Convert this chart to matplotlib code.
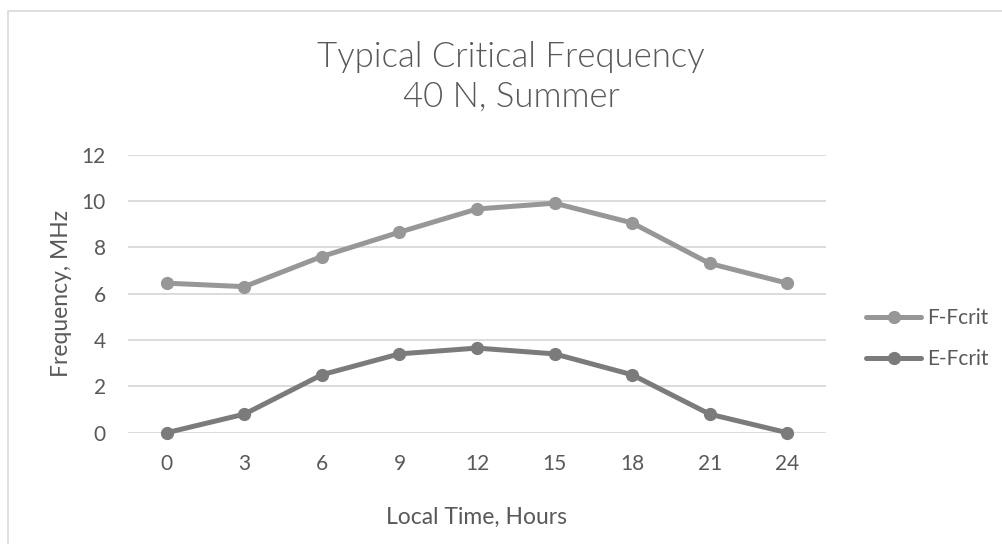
# Imports
import numpy as np
import matplotlib
matplotlib.use('Agg')
import matplotlib.pyplot as plt
from matplotlib.patches import Rectangle

# Font
matplotlib.rcParams['font.family'] = ['Lato', 'DejaVu Sans']

# Data
hours = [0, 3, 6, 9, 12, 15, 18, 21, 24]
f_fcrit = [6.45, 6.3, 7.6, 8.65, 9.65, 9.9, 9.05, 7.3, 6.45]
e_fcrit = [0.0, 0.8, 2.5, 3.4, 3.65, 3.4, 2.5, 0.8, 0.0]
yticks = [0, 2, 4, 6, 8, 10, 12]

# Colours
txt = '#595959'
grid = '#d9d9d9'
f_col = '#979797'
e_col = '#7b7b7b'

# Figure
W, H = 1003, 544
fig = plt.figure(figsize=(W / 100, H / 100), dpi=100)
ax = fig.add_axes([128 / W, 1 - 432.7 / H, (826 - 128) / W, (432.7 - 154.5) / H])

# Chart area border (only left and top visible)
fig.patches.append(Rectangle((8 / W, -0.5), 2, 1.5 - 11 / H, transform=fig.transFigure,
                             fill=False, edgecolor=grid, linewidth=1.2))

# Lines (not clipped so the markers on 0 stay round)
ax.plot(hours, f_fcrit, color=f_col, lw=3.6, marker='o', ms=8.5, label='F-Fcrit',
        solid_capstyle='round', zorder=3, clip_on=False)
ax.plot(hours, e_fcrit, color=e_col, lw=3.6, marker='o', ms=8.5, label='E-Fcrit',
        solid_capstyle='round', zorder=3, clip_on=False)

# Axes
ax.set_xlim(-1.5, 25.5)
ax.set_ylim(0, 12)
ax.set_xticks(hours)
ax.set_yticks(yticks)
ax.grid(axis='y', color=grid, lw=1.3)
ax.set_axisbelow(True)
for s in ax.spines.values():
    s.set_visible(False)
ax.tick_params(length=0, labelsize=15, labelcolor=txt)
ax.tick_params(axis='x', pad=15)
ax.tick_params(axis='y', pad=16)

# Axis titles
ax.set_ylabel('Frequency, MHz', fontsize=16.5, color=txt, va='center')
ax.yaxis.set_label_coords(-0.095, 0.5)
ax.set_xlabel('Local Time, Hours', fontsize=16.5, color=txt, va='center')
ax.xaxis.set_label_coords(0.5, -0.305)

# Title
fig.text(511 / W, 1 - 67 / H, 'Typical Critical Frequency', ha='center', va='baseline',
         fontsize=25, color=txt, fontweight=300)
fig.text(511 / W, 1 - 107 / H, '40 N, Summer', ha='center', va='baseline',
         fontsize=25, color=txt, fontweight=300)

# Legend
leg = fig.legend(loc='center left', bbox_to_anchor=(866 / W, 1 - 338.5 / H), frameon=False,
                 fontsize=15, handlelength=2.65, handletextpad=0.3, labelspacing=1.0,
                 borderpad=0, borderaxespad=0)
for t in leg.get_texts():
    t.set_color(txt)

plt.savefig('out.png', dpi=100)
